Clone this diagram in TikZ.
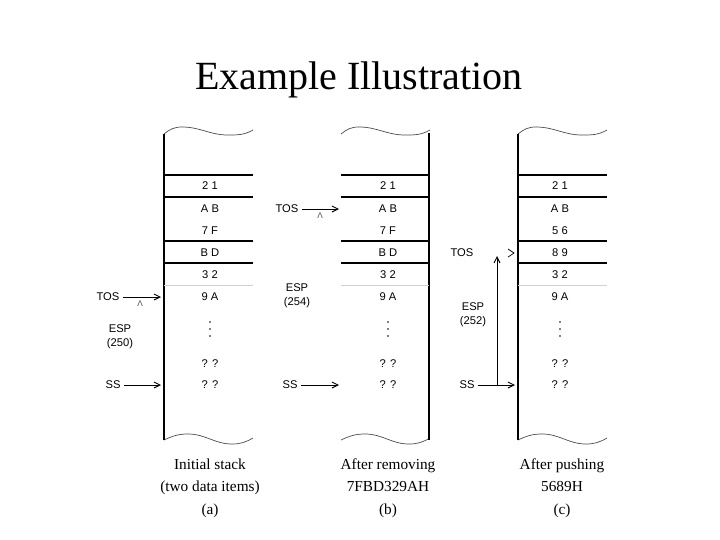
\documentclass[tikz,border=0pt]{standalone}
\usepackage{fontspec}
\setmainfont{Liberation Serif}
\setsansfont{Liberation Sans}
\usetikzlibrary{arrows.meta,calc}
\tikzset{cell/.style={font=\sffamily\fontsize{9.5}{10}\selectfont,inner sep=0pt}}
\tikzset{side/.style={font=\sffamily\fontsize{9.5}{12}\selectfont,inner sep=0pt,align=center}}
\tikzset{caption/.style={font=\fontsize{13}{19}\selectfont,inner sep=0pt,align=center}}
\tikzset{stackline/.style={line width=0.9pt}}
\tikzset{faint/.style={line width=0.6pt,color=gray!35}}
\tikzset{wave/.style={line width=0.6pt,color=black!70}}
\tikzset{ptr/.style={line width=0.8pt,shorten <=3pt,-{Straight Barb[length=5pt,width=5pt]}}}
\tikzset{tickmark/.style={font=\sffamily\fontsize{7}{7}\selectfont,text=black!70,inner sep=0pt}}
\newcommand{\topwave}[1]{\draw[wave,shift={(#1,0)}] (0,134) to[out=40,in=180] (18,127) to[out=0,in=180] (64,135) to[out=0,in=210] (89,130);}
\newcommand{\botwave}[1]{\draw[wave,shift={(#1,0)}] (0,440) to[out=25,in=180] (24,434) to[out=0,in=180] (68,444) to[out=0,in=210] (89,438);}
\newcommand{\stackdots}[1]{\foreach \d in {322,329,336} \fill (#1,\d) circle (0.8);}

\begin{document}
\begin{tikzpicture}[x=0.85pt,y=-0.85pt]
	\useasboundingbox (0,0) rectangle (720,540);
	\node[font=\fontsize{34}{36}\selectfont,inner sep=0pt] (title) at (359,80) {Example Illustration};

	% stack (a)
	\topwave{164}
	\botwave{164}
	\draw[stackline] (164,134) -- (164,440);
	\foreach \y in {175,197,241,263} \draw[stackline] (164,\y) -- (253,\y);
	\draw[faint] (164,285) -- (253,285);
	\foreach \t/\y [count=\i] in {2 1/186,A B/209,7 F/231,B D/253,3 2/275,9 A/297,? ?/364,? ?/385}
		\node[cell] (a\i) at (210,\y) {\t};
	\stackdots{210}
	\node[side] (atos) at (108,297) {TOS};
	\coordinate (atostip) at (161,297);
	\draw[ptr] (atos) -- (atostip);
	\node[tickmark] (amark) at (140,304) {Λ};
	\node[side] (aesp) at (120,337) {ESP\\(250)};
	\node[side] (ass) at (113,385) {SS};
	\coordinate (asstip) at (161,385);
	\draw[ptr] (ass) -- (asstip);
	\node[caption] (acap) at (210,488) {Initial stack\\(two data items)\\(a)};

	% stack (b)
	\topwave{341}
	\botwave{341}
	\draw[stackline] (429,133) -- (429,440);
	\foreach \y in {175,197,241,263} \draw[stackline] (341,\y) -- (429,\y);
	\draw[faint] (341,285) -- (429,285);
	\foreach \t/\y [count=\i] in {2 1/186,A B/209,7 F/231,B D/253,3 2/275,9 A/297,? ?/364,? ?/385}
		\node[cell] (b\i) at (388,\y) {\t};
	\stackdots{388}
	\node[side] (btos) at (287,209) {TOS};
	\coordinate (btostip) at (339,209);
	\draw[ptr] (btos) -- (btostip);
	\node[tickmark] (bmark) at (320,216) {Λ};
	\node[side] (besp) at (297,296) {ESP\\(254)};
	\node[side] (bss) at (290,385) {SS};
	\coordinate (bsstip) at (339,385);
	\draw[ptr] (bss) -- (bsstip);
	\node[caption] (bcap) at (388,488) {After removing\\7FBD329AH\\(b)};

	% stack (c)
	\topwave{518}
	\botwave{518}
	\draw[stackline] (518,134) -- (518,440);
	\foreach \y in {175,197,241,263} \draw[stackline] (518,\y) -- (607,\y);
	\draw[faint] (518,285) -- (607,285);
	\foreach \t/\y [count=\i] in {2 1/186,A B/209,5 6/231,8 9/253,3 2/275,9 A/297,? ?/364,? ?/385}
		\node[cell] (c\i) at (560,\y) {\t};
	\stackdots{560}
	\node[side] (ctos) at (462,253) {TOS};
	\draw[line width=0.6pt] (508,249) -- (514,253) -- (508,257); % bare head
	\node[side] (cesp) at (473,315) {ESP\\(252)};
	\node[side] (css) at (467,385) {SS};
	\coordinate (csstip) at (515,385);
	\draw[ptr] (css) -- (csstip);
	\coordinate (cbend) at (497,385);
	\coordinate (cup) at (497,256);
	\draw[ptr,shorten <=0pt] (cbend) -- (cup);
	\node[caption] (ccap) at (562,488) {After pushing\\5689H\\(c)};
\end{tikzpicture}
\end{document}
